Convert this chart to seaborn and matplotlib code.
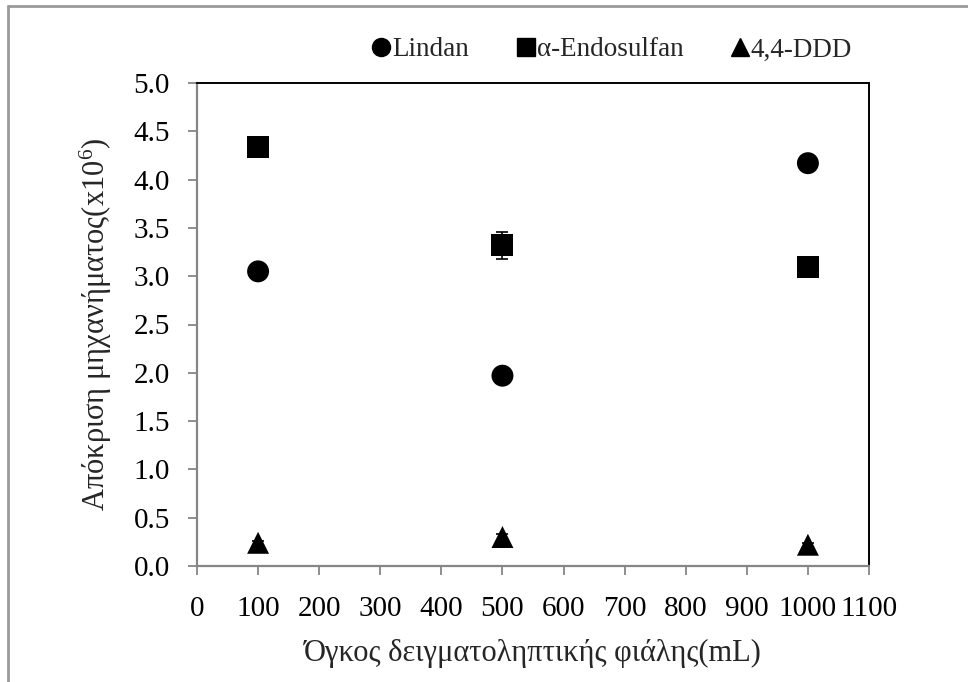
import matplotlib
matplotlib.use("Agg")
import matplotlib.pyplot as plt
import seaborn as sns
import pandas as pd
from matplotlib.lines import Line2D

# Sample bottle volumes (mL) and detector response (x10^6)
volumes = [100, 500, 1000]
lindan = [3.05, 1.97, 4.17]
lindan_err = [0.03, 0.03, 0.03]
endosulfan = [4.34, 3.32, 3.10]
endosulfan_err = [0.04, 0.14, 0.04]
ddd = [0.24, 0.30, 0.22]
ddd_err = [0.02, 0.03, 0.02]
series_names = ["Lindan", "α-Endosulfan", "4,4-DDD"]

sns.set_style("white")
plt.rcParams["font.family"] = ["Liberation Serif", "DejaVu Serif"]
plt.rcParams["mathtext.fontset"] = "custom"
plt.rcParams["mathtext.rm"] = "Liberation Serif"
plt.rcParams["mathtext.it"] = "Liberation Serif:italic"

df = pd.DataFrame({
    "volume": volumes * 3,
    "response": lindan + endosulfan + ddd,
    "err": lindan_err + endosulfan_err + ddd_err,
    "compound": [series_names[0]] * 3 + [series_names[1]] * 3 + [series_names[2]] * 3,
})

fig = plt.figure(figsize=(9.68, 6.82), dpi=100)
ax = fig.add_axes([197 / 968, 1 - 566 / 682, (869 - 197) / 968, (566 - 83) / 682])

marker_map = {series_names[0]: "o", series_names[1]: "s", series_names[2]: "^"}
for name in series_names:
    sub = df[df["compound"] == name]
    ax.errorbar(sub["volume"], sub["response"], yerr=sub["err"], fmt="none",
                ecolor="black", elinewidth=1.2, capsize=4, capthick=1.2, zorder=2)

sns.scatterplot(data=df, x="volume", y="response", style="compound",
                markers=marker_map, color="black", s=250, edgecolor="black",
                linewidth=0, ax=ax, zorder=3, legend=False)

ax.set_xlim(0, 1100)
ax.set_ylim(0, 5.0)
ax.set_xticks(range(0, 1101, 100))
ax.set_yticks([i * 0.5 for i in range(11)])
ax.set_yticklabels([f"{i * 0.5:.1f}" for i in range(11)])

grey = "#868686"
for side in ("left", "bottom"):
    ax.spines[side].set_color(grey)
    ax.spines[side].set_linewidth(1.6)
for side in ("top", "right"):
    ax.spines[side].set_color("black")
    ax.spines[side].set_linewidth(1.4)
    ax.spines[side].set_visible(True)

ax.tick_params(axis="both", direction="out", length=6.5, width=1.3, color=grey,
               labelsize=21, labelcolor="black")
ax.tick_params(axis="x", pad=15, bottom=True)
ax.tick_params(axis="y", pad=13, left=True)

ax.set_xlabel("Όγκος δειγματοληπτικής φιάλης(mL)", fontsize=22, labelpad=12)
ax.set_ylabel("Απόκριση μηχανήματος(x10$^{6}$)", fontsize=22, labelpad=14)

handles = [Line2D([], [], marker=marker_map[n], color="black", linestyle="none",
                  markersize=13) for n in series_names]
fig.legend(handles, series_names, loc="center", bbox_to_anchor=(610 / 968, 1 - 50 / 682),
           ncol=3, frameon=False, fontsize=19.5, handletextpad=-0.1,
           columnspacing=1.6, handlelength=1.0, borderaxespad=0)

# outer frame around the chart area
frame_color = "#9a9a9a"
fig.add_artist(Line2D([8 / 968, 8 / 968], [0, 1 - 6 / 682], transform=fig.transFigure,
                      color=frame_color, linewidth=2))
fig.add_artist(Line2D([8 / 968, 1], [1 - 6 / 682, 1 - 6 / 682], transform=fig.transFigure,
                      color=frame_color, linewidth=2))

fig.savefig("out.png", dpi=100, facecolor="white")
